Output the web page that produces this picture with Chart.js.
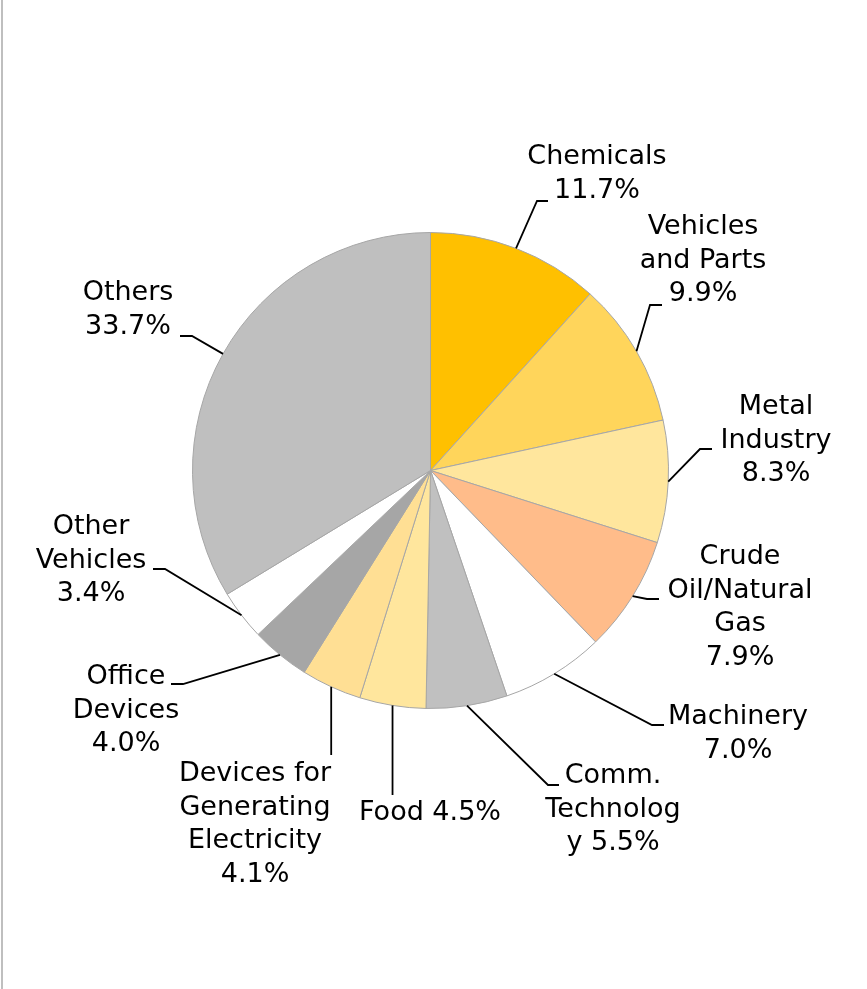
<!DOCTYPE html>
<html>
<head>
<meta charset="utf-8">
<script src="https://cdn.jsdelivr.net/npm/chart.js@4.4.1/dist/chart.umd.min.js"></script>
<style>
  body { margin: 0; background: #fff; }
  canvas { display: block; }
</style>
</head>
<body>
<canvas id="shareChart" width="867" height="989"></canvas>
<script>
// share of each sector, percent
const sectors = ['Chemicals', 'Vehicles and Parts', 'Metal Industry', 'Crude Oil/Natural Gas', 'Machinery',
  'Comm. Technology', 'Food', 'Devices for Generating Electricity', 'Office Devices', 'Other Vehicles', 'Others'];
const shares = [11.7, 9.9, 8.3, 7.9, 7.0, 5.5, 4.5, 4.1, 4.0, 3.4, 33.7];
const sliceColors = ['#FFC000', '#FFD55B', '#FFE69D', '#FFBC8A', '#FFFFFF',
  '#C0C0C0', '#FFE69D', '#FFDF94', '#A6A6A6', '#FFFFFF', '#BFBFBF'];

// how each label wraps; {v} is replaced by the share
const labelLines = [
  ['Chemicals', '{v}'],
  ['Vehicles', 'and Parts', '{v}'],
  ['Metal', 'Industry', '{v}'],
  ['Crude', 'Oil/Natural', 'Gas', '{v}'],
  ['Machinery', '{v}'],
  ['Comm.', 'Technolog', 'y {v}'],
  ['Food {v}'],
  ['Devices for', 'Generating', 'Electricity', '{v}'],
  ['Office', 'Devices', '{v}'],
  ['Other', 'Vehicles', '{v}'],
  ['Others', '{v}']
];

// label placement: text centre x, first line y, leader elbow, leader end
const labelPos = [
  { x: 597, y: 157, elbow: [537, 201], end: [548, 201] },
  { x: 703, y: 227, elbow: [650, 305], end: [662, 305] },
  { x: 776, y: 407, elbow: [700, 449], end: [712, 449] },
  { x: 740, y: 557, elbow: [647, 599], end: [659, 599] },
  { x: 738, y: 717, elbow: [652, 725], end: [664, 725] },
  { x: 613, y: 776, elbow: [548, 785], end: [559, 785] },
  { x: 430, y: 813, elbow: null, end: [392, 795] },
  { x: 255, y: 774, elbow: null, end: [330, 755] },
  { x: 126, y: 677, elbow: [183, 684], end: [171, 684] },
  { x: 91, y: 527, elbow: [165, 569], end: [153, 569] },
  { x: 128, y: 293, elbow: [192, 336], end: [180, 336] }
];

const lineHeight = 33.6;

const pieLabels = {
  id: 'pieLabels',
  beforeDraw(chart) {
    const c = chart.ctx;
    c.save();
    c.fillStyle = '#BFBFBF';
    c.fillRect(1, 0, 2, chart.height);
    c.restore();
  },
  afterDraw(chart) {
    const c = chart.ctx;
    const arcs = chart.getDatasetMeta(0).data;
    c.save();
    c.strokeStyle = '#000';
    c.lineWidth = 1.8;
    c.fillStyle = '#000';
    c.font = '27px "DejaVu Sans"';
    c.textAlign = 'center';
    c.textBaseline = 'middle';
    arcs.forEach((arc, i) => {
      const p = arc.getProps(['x', 'y', 'startAngle', 'endAngle', 'outerRadius'], true);
      const mid = (p.startAngle + p.endAngle) / 2;
      const sx = p.x + Math.cos(mid) * p.outerRadius;
      const sy = p.y + Math.sin(mid) * p.outerRadius;
      const pos = labelPos[i];
      c.beginPath();
      c.moveTo(sx, sy);
      if (pos.elbow) {
        c.lineTo(pos.elbow[0], pos.elbow[1]);
      } else {
        pos.end[0] = sx;
      }
      c.lineTo(pos.end[0], pos.end[1]);
      c.stroke();

      const v = shares[i].toFixed(1) + '%';
      labelLines[i].forEach((t, k) => {
        c.fillText(t.replace('{v}', v), pos.x, pos.y + k * lineHeight);
      });
    });
    c.restore();
  }
};

new Chart(document.getElementById('shareChart'), {
  type: 'pie',
  data: {
    labels: sectors,
    datasets: [{
      data: shares,
      backgroundColor: sliceColors,
      borderColor: '#A6A6A6',
      borderWidth: 1
    }]
  },
  options: {
    responsive: false,
    animation: false,
    layout: { padding: { left: 192, right: 198, top: 232, bottom: 280 } },
    plugins: {
      legend: { display: false },
      tooltip: { enabled: false }
    }
  },
  plugins: [pieLabels]
});
</script>
</body>
</html>
